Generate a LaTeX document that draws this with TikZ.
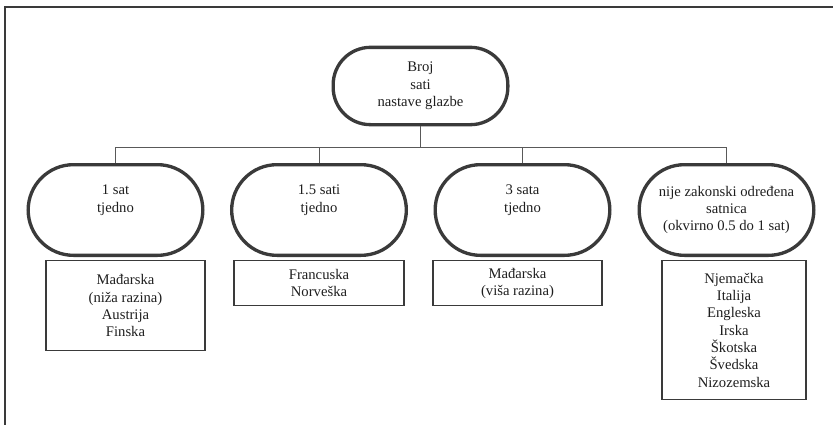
\documentclass[tikz,border=0pt]{standalone}
\usepackage{fontspec}
\setmainfont{Liberation Serif}
\usetikzlibrary{positioning}
\usetikzlibrary{calc}
\definecolor{linegray}{RGB}{58,58,58}
\definecolor{textgray}{RGB}{30,30,30}
\tikzstyle{rootvertex}=[draw=linegray,line width=2.5pt,rounded corners=28pt,minimum width=131pt,minimum height=58pt,inner sep=0pt,align=center,text=textgray,font=\fontsize{11pt}{13pt}\selectfont]
\tikzstyle{hoursvertex}=[draw=linegray,line width=2.5pt,rounded corners=34pt,minimum width=131pt,minimum height=68pt,inner sep=0pt,align=center,text=textgray,font=\fontsize{11pt}{13pt}\selectfont]
\tikzstyle{countrybox}=[draw=linegray,line width=1.1pt,anchor=north,inner sep=0pt,align=center,text=textgray,font=\fontsize{11pt}{13pt}\selectfont]
\tikzstyle{branch} = [draw,black!65,line width=0.7pt]
\tikzstyle{frame} = [draw,linegray,line width=1.4pt]

\begin{document}
\begin{tikzpicture}[x=0.75pt,y=-0.75pt]
    \useasboundingbox (0,0) rectangle (833,425);
    \path[frame] (5,425) -- (5,7) -- (833,7);

    \node[rootvertex] (root) at (420.5,86) {Broj\\sati\\nastave glazbe};

    \foreach \pos/\name/\txt in {{(115.5,210)/one/{1 sat\\tjedno\\\strut}}, {(319,210)/two/{1.5 sati\\tjedno\\\strut}}, {(522.5,210)/three/{3 sata\\tjedno\\\strut}}, {(726.5,210)/four/{nije zakonski određena\\satnica\\(okvirno 0.5 do 1 sat)}}}
        \node[hoursvertex] (\name) at \pos {\txt};

    \coordinate (bus) at (420.5,147);
    \path[branch] (root) -- (bus);
    \foreach \dest in {one,two,three,four}
        \path[branch] (bus) -| (\dest);

    \foreach \pos/\name/\boxw/\boxh/\txt in {{(125.5,260)/onelist/119pt/67.5pt/{Mađarska\\(niža razina)\\Austrija\\Finska}}, {(319,260)/twolist/127.5pt/33.75pt/{Francuska\\Norveška}}, {(517.5,260)/threelist/127pt/33.75pt/{Mađarska\\(viša razina)}}, {(734,260)/fourlist/108pt/104pt/{Njemačka\\Italija\\Engleska\\Irska\\Škotska\\Švedska\\Nizozemska}}}
        \node[countrybox,minimum width=\boxw,minimum height=\boxh] (\name) at \pos {\txt};

\end{tikzpicture}
\end{document}
